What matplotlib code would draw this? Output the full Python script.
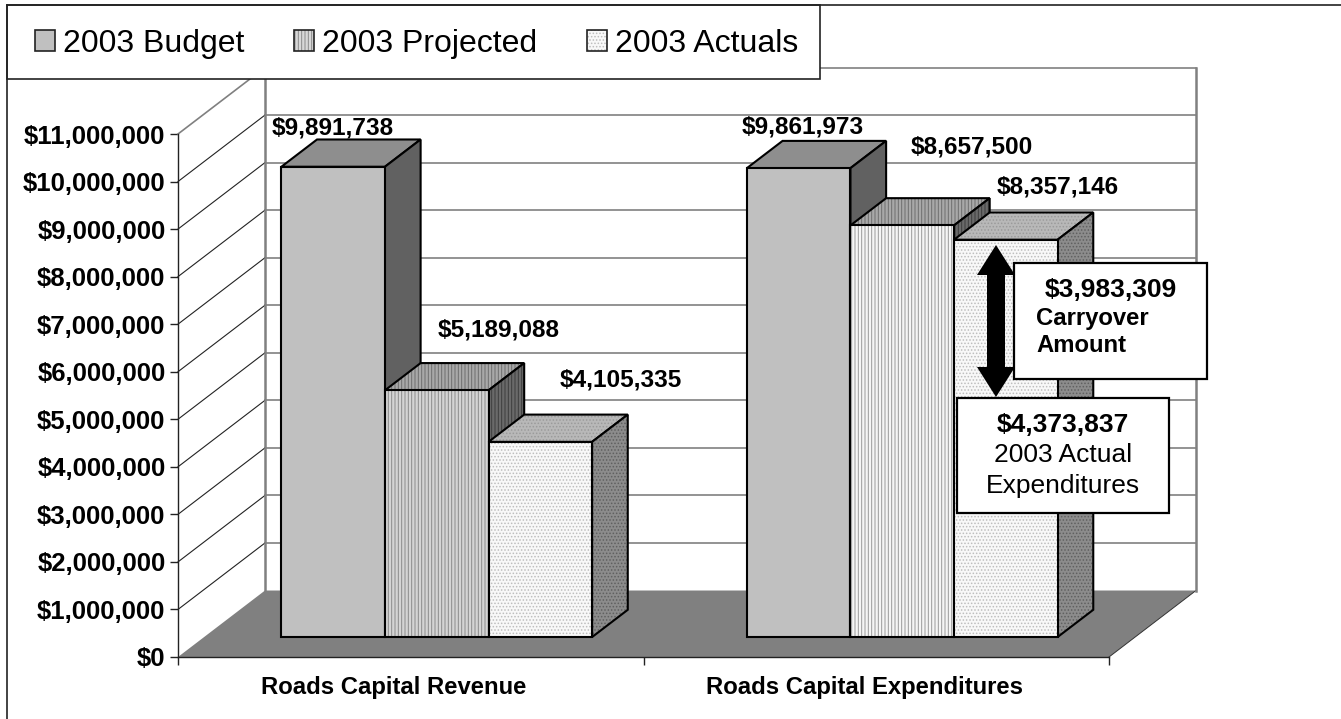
import matplotlib
matplotlib.use("Agg")
import matplotlib.pyplot as plt
from matplotlib.colors import to_rgba
from matplotlib.patches import Polygon, Rectangle, FancyArrow, Patch
from matplotlib.lines import Line2D
from matplotlib.transforms import Affine2D

categories = ["Roads Capital Revenue", "Roads Capital Expenditures"]
series_names = ["2003 Budget", "2003 Projected", "2003 Actuals"]
budget = [9891738, 9861973]
projected = [5189088, 8657500]
actuals = [4105335, 8357146]
y_ticks = list(range(0, 11000001, 1000000))

plt.rcParams['font.family'] = ['Liberation Sans', 'DejaVu Sans']
plt.rcParams['hatch.linewidth'] = 0.7

W, H = 1341, 719
fig = plt.figure(figsize=(W / 100, H / 100), dpi=100, facecolor='white')
PX = Affine2D().scale(1, -1).translate(0, H)   # top-down pixel coordinates for decoration

L, R, T, B = 178, 1109, 134, 657
ax = fig.add_axes([L / W, 1 - B / H, (R - L) / W, (B - T) / H])
ax.set_xlim(0, 2)
ax.set_ylim(0, 11000000)
ax.patch.set_visible(False)

# depth vector of the floor in data units
DX = 87 / 465.5
DY = 66.5 / 47.55 * 1e6
GRAY = '#808080'

# floor
ax.add_patch(Polygon([(0, 0), (DX, DY), (2 + DX, DY), (2, 0)], closed=True, fc=GRAY, ec='none',
                     zorder=1, clip_on=False))
ax.plot([2, 2 + DX], [0, DY], color='#333333', lw=0.7, zorder=1.2, clip_on=False)

# walls
for v in y_ticks[1:]:
    ax.plot([DX, 2 + DX], [v + DY, v + DY], color=GRAY, lw=1.2, zorder=2, clip_on=False)
    top = v == y_ticks[-1]
    ax.plot([0, DX], [v, v + DY], color=GRAY if top else '#222222', lw=1.2 if top else 0.8,
            zorder=2, clip_on=False)
for x0 in (DX, 2 + DX):
    ax.plot([x0, x0], [DY, y_ticks[-1] + DY], color=GRAY, lw=1.8, zorder=2.1, clip_on=False)

# 3-D bars
F0 = 0.30   # how far into the floor the bars' front sits
F1 = 0.41   # bar depth as share of floor depth
GROUP_OFF = 0.166
BAR_W = 0.2225
styles = [
    dict(front=('#C0C0C0', None, None), top=('#8E8E8E', None, None), side=('#616161', None, None)),
    dict(front=('#E4E4E4', '#8A8A8A', '|||||'), top=('#A8A8A8', '#6E6E6E', '|||||'),
         side=('#6A6A6A', '#3E3E3E', '|||||')),
    dict(front=('#F8F8F8', '#BDBDBD', '.....'), top=('#B8B8B8', '#9A9A9A', '.....'),
         side=('#8C8C8C', '#606060', '.....')),
]
# the striped front reads darker in the left group than in the right one
projected_front = [('#D4D4D4', '#8A8A8A', '|||||'), ('#F6F6F6', '#9A9A9A', '|||||')]


def face(pts, style, z):
    fc, hc, hatch = style
    if hatch:
        ax.add_patch(Polygon(pts, closed=True, fc=fc, ec=hc, hatch=hatch, lw=0, zorder=z, clip_on=False))
    else:
        ax.add_patch(Polygon(pts, closed=True, fc=fc, ec='none', zorder=z, clip_on=False))
    ax.add_patch(Polygon(pts, closed=True, fill=False, ec='black', lw=1.5, joinstyle='miter',
                         zorder=z + 0.001, clip_on=False))


z = 3
for g in range(len(categories)):
    for s, values in enumerate([budget, projected, actuals]):
        x0 = g + GROUP_OFF + s * BAR_W + F0 * DX
        x1 = x0 + BAR_W
        y0 = F0 * DY
        y1 = y0 + values[g]
        dx, dy = F1 * DX, F1 * DY
        st = styles[s]
        front = projected_front[g] if s == 1 else st['front']
        face([(x0, y1), (x1, y1), (x1 + dx, y1 + dy), (x0 + dx, y1 + dy)], st['top'], z)
        face([(x1, y0), (x1 + dx, y0 + dy), (x1 + dx, y1 + dy), (x1, y1)], st['side'], z + 0.01)
        face([(x0, y0), (x1, y0), (x1, y1), (x0, y1)], front, z + 0.02)
        z += 0.1

# axes, ticks, labels
for sp in ('top', 'right'):
    ax.spines[sp].set_visible(False)
for sp in ('left', 'bottom'):
    ax.spines[sp].set_color('#222222')
    ax.spines[sp].set_linewidth(1.0)
    ax.spines[sp].set_zorder(2.5)
ax.set_yticks(y_ticks)
ax.set_yticklabels([f"${v:,.0f}" for v in y_ticks], fontsize=18.5, fontweight='bold')
ax.tick_params(axis='y', length=6, width=1, pad=3, color='#222222')
ax.set_xticks([0, 1, 2])
ax.set_xticklabels([])
ax.tick_params(axis='x', which='major', length=6, width=1, color='#222222')
ax.set_xticks([0.464, 1.474], minor=True)
ax.set_xticklabels(categories, minor=True, fontsize=17.2, fontweight='bold')
ax.tick_params(axis='x', which='minor', length=0, pad=14)

# value labels
label_pos = [[(333, 128), (499, 330), (621, 380)], [(803, 127), (972, 147), (1058, 187)]]
for g in range(2):
    for s, values in enumerate([budget, projected, actuals]):
        px, py = label_pos[g][s]
        ax.text(px, py, f"${values[g]:,.0f}", transform=PX, ha='center', va='center',
                fontsize=17.6, fontweight='bold', zorder=6, clip_on=False)

# carryover arrow
for y_start, d in ((321, -76), (321, 76)):
    ax.add_patch(FancyArrow(996, y_start, 0, d, width=18, head_width=38, head_length=30,
                            length_includes_head=True, fc='black', ec='none', transform=PX,
                            zorder=7, clip_on=False))

# callouts
ax.add_patch(Rectangle((1014, 263), 193, 116, fc='white', ec='black', lw=1.6, transform=PX,
                       zorder=8, clip_on=False))
ax.add_patch(Rectangle((957, 398), 212, 115, fc='white', ec='black', lw=1.6, transform=PX,
                       zorder=8, clip_on=False))
ax.text(1110.5, 290, "$3,983,309", transform=PX, ha='center', va='center', fontsize=19,
        fontweight='bold', zorder=9)
ax.text(1036, 318, "Carryover", transform=PX, ha='left', va='center', fontsize=17.2,
        fontweight='bold', zorder=9)
ax.text(1036, 346, "Amount", transform=PX, ha='left', va='center', fontsize=17.2,
        fontweight='bold', zorder=9)
ax.text(1063, 425, "$4,373,837", transform=PX, ha='center', va='center', fontsize=19,
        fontweight='bold', zorder=9)
ax.text(1063, 455, "2003 Actual", transform=PX, ha='center', va='center', fontsize=19, zorder=9)
ax.text(1063, 486, "Expenditures", transform=PX, ha='center', va='center', fontsize=19, zorder=9)

# outer frame and legend box
fig.add_artist(Line2D([7, 7], [4.5, H], transform=PX, color='#222222', lw=1.2, zorder=4))
fig.add_artist(Line2D([7, W], [4.5, 4.5], transform=PX, color='#222222', lw=1.2, zorder=4))
ax.add_patch(Rectangle((7, 4.5), 813, 74, fc='white', ec='#222222', lw=1.2, transform=PX,
                       zorder=10, clip_on=False))

handles = [
    Patch(fc='#C0C0C0', ec='#222222', lw=1.2),
    Patch(fc='#D8D8D8', ec='#222222', lw=1.2, hatch='|||||'),
    Patch(fc='#F8F8F8', ec='#222222', lw=1.2, hatch='.....'),
]
handles[1]._hatch_color = to_rgba('#8A8A8A')
handles[2]._hatch_color = to_rgba('#BDBDBD')
leg = fig.legend(handles, series_names, ncols=3, frameon=False, fontsize=23,
                 handlelength=0.63, handleheight=0.63, handletextpad=0.25, columnspacing=1.55,
                 borderpad=0, borderaxespad=0, loc='center left',
                 bbox_to_anchor=(35 / W, 1 - 44 / H))
leg.set_zorder(20)

fig.savefig("out.png", dpi=100, facecolor='white')
